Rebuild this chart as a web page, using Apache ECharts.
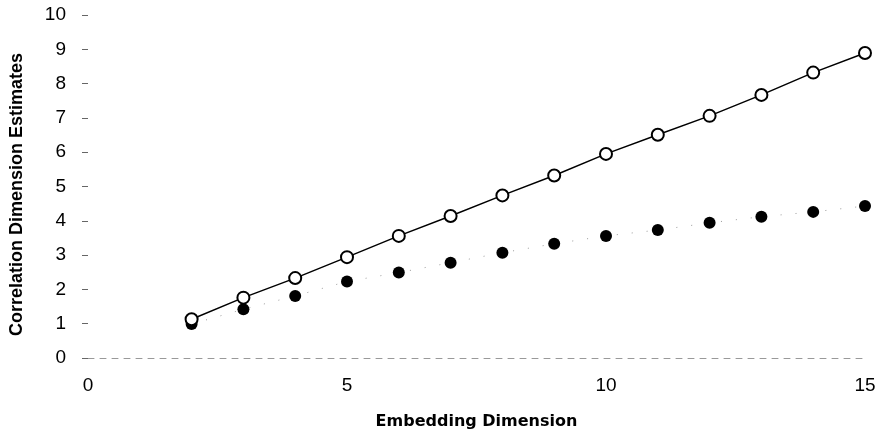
<!DOCTYPE html>
<html>
<head>
<meta charset="utf-8">
<script src="https://cdn.jsdelivr.net/npm/echarts@6/dist/echarts.min.js"></script>
<style>
  html, body { margin: 0; padding: 0; background: #fff; }
  #chart { width: 884px; height: 435px; }
</style>
</head>
<body>
<div id="chart"></div>
<script>
// embedding dimension (x)
const dims = [2, 3, 4, 5, 6, 7, 8, 9, 10, 11, 12, 13, 14, 15]
// open circles, joined by solid line
const openVals = [1.13, 1.76, 2.33, 2.94, 3.56, 4.14, 4.74, 5.32, 5.95, 6.51, 7.06, 7.67, 8.32, 8.89]
// filled circles, faint dotted line
const filledVals = [0.99, 1.42, 1.81, 2.23, 2.49, 2.78, 3.07, 3.33, 3.56, 3.73, 3.94, 4.12, 4.26, 4.43]

const pairs = (ys) => dims.map((x, i) => [x, ys[i]])

const chart = echarts.init(document.getElementById('chart'))
chart.setOption({
  animation: false,
  grid: { left: 85, right: 19, top: 15, bottom: 76 },
  xAxis: {
    type: 'value',
    min: 0,
    max: 15,
    interval: 5,
    name: 'Embedding Dimension',
    nameLocation: 'middle',
    nameGap: 56,
    nameTextStyle: { fontFamily: 'DejaVu Sans', fontWeight: 'bold', fontSize: 16, color: '#000' },
    axisLine: { show: true, lineStyle: { color: '#999', width: 1, type: [6, 6] } },
    axisTick: { show: false },
    axisLabel: { margin: 18, fontFamily: 'Liberation Sans', fontSize: 19, color: '#000' },
    splitLine: { show: false }
  },
  yAxis: {
    type: 'value',
    min: 0,
    max: 10,
    interval: 1,
    name: 'Correlation Dimension Estimates',
    nameLocation: 'middle',
    nameGap: 62,
    nameTextStyle: { fontFamily: 'Liberation Sans', fontWeight: 'bold', fontSize: 18, color: '#000', padding: [0, 16, 0, 0] },
    axisLine: { show: false },
    axisTick: { show: true, length: 6, lineStyle: { color: '#666' } },
    axisLabel: { margin: 22, fontFamily: 'Liberation Sans', fontSize: 19, color: '#000' },
    splitLine: { show: false }
  },
  series: [
    {
      name: 'filled',
      type: 'line',
      data: pairs(filledVals),
      symbol: 'circle',
      symbolSize: 12,
      itemStyle: { color: '#000' },
      lineStyle: { color: '#999', width: 1, type: [1, 14] },
      z: 2
    },
    {
      name: 'open',
      type: 'line',
      data: pairs(openVals),
      symbol: 'circle',
      symbolSize: 12,
      itemStyle: { color: '#fff', borderColor: '#000', borderWidth: 2 },
      lineStyle: { color: '#000', width: 1.5 },
      z: 3
    }
  ]
})
</script>
</body>
</html>
